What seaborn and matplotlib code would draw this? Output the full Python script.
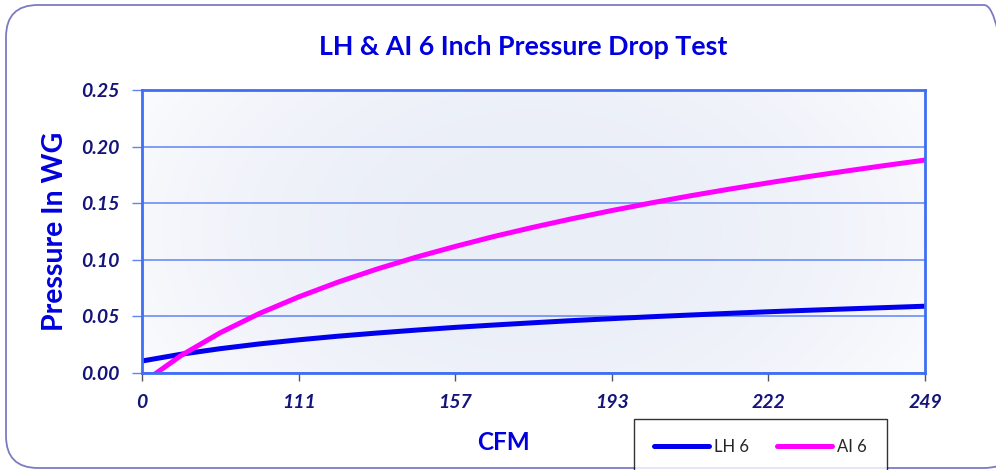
import matplotlib
matplotlib.use("Agg")
import matplotlib.pyplot as plt
from matplotlib.patches import FancyBboxPatch
from matplotlib.transforms import IdentityTransform
from matplotlib.colors import to_rgb
import numpy as np
import pandas as pd
import seaborn as sns

# CFM categories on the x axis
cfm_labels = ["0", "111", "157", "193", "222", "249"]

# readings taken off the curves, x in category steps (0 = "0", 5 = "249")
x_read = [0, 0.25, 0.5, 0.75, 1, 1.25, 1.5, 1.75, 2, 2.25, 2.5,
          2.75, 3, 3.25, 3.5, 3.75, 4, 4.25, 4.5, 4.75, 5]
lh6 = [0.0106, 0.0166, 0.0215, 0.0257, 0.0293, 0.0325, 0.0353, 0.0379,
       0.0403, 0.0424, 0.0444, 0.0463, 0.0480, 0.0497, 0.0512, 0.0527,
       0.0541, 0.0554, 0.0566, 0.0578, 0.0590]
ai6 = [-0.0090, 0.0155, 0.0356, 0.0526, 0.0672, 0.0802, 0.0918, 0.1023,
       0.1118, 0.1207, 0.1288, 0.1364, 0.1435, 0.1502, 0.1565, 0.1624,
       0.1680, 0.1734, 0.1785, 0.1834, 0.1881]

df = pd.concat([
    pd.DataFrame({"x": x_read, "p": lh6, "series": "LH 6"}),
    pd.DataFrame({"x": x_read, "p": ai6, "series": "AI 6"}),
])

sns.set_style("white")
plt.rcParams["font.family"] = ["Lato", "DejaVu Sans"]

fig = plt.figure(figsize=(9.96, 4.7), dpi=100)
ax = fig.add_axes([142 / 996, 1 - 373 / 470, (925 - 142) / 996, (373 - 90) / 470])

# soft gradient fill of the plot area
gx, gy = np.meshgrid(np.linspace(-1, 1, 200), np.linspace(-1, 1, 100))
t = np.clip(np.sqrt((gx * 0.9) ** 2 + (gy * 0.5) ** 2) / 1.05, 0, 1) ** 2.2
c_in, c_out = np.array(to_rgb("#eaeef7")), np.array(to_rgb("#fbfcfe"))
img = c_in * (1 - t[..., None]) + c_out * t[..., None]
ax.imshow(img, extent=[0, 5, 0, 0.25], aspect="auto", zorder=0, origin="lower")

sns.lineplot(data=df, x="x", y="p", hue="series", palette=["#0000ee", "#ff00ff"],
             linewidth=3.6, ax=ax, legend=False, zorder=3)

ax.set_xlim(0, 5)
ax.set_ylim(0, 0.25)
ax.set_xticks(range(len(cfm_labels)))
ax.set_xticklabels(cfm_labels)
ax.set_yticks([0, 0.05, 0.10, 0.15, 0.20, 0.25])
ax.set_yticklabels(["0.00", "0.05", "0.10", "0.15", "0.20", "0.25"])
ax.grid(axis="y", color="#5f85f5", linewidth=1.1, zorder=1)
ax.grid(axis="x", visible=False)
for s in ax.spines.values():
    s.set_color("#3f6ef5")
    s.set_linewidth(2)
    s.set_zorder(4)

ax.tick_params(axis="x", direction="out", length=6, width=1, color="#555555", pad=9,
               bottom=True)
ax.tick_params(axis="y", direction="out", length=7, width=1, color="#5f85f5", pad=9,
               left=True)
for lab in ax.get_xticklabels() + ax.get_yticklabels():
    lab.set_fontsize(14)
    lab.set_fontweight("bold")
    lab.set_fontstyle("italic")
    lab.set_color("#14147a")

ax.set_xlabel("")
ax.set_ylabel("Pressure In WG", fontsize=20.5, fontweight="bold", color="#0000dd",
              labelpad=10)

fig.text(523 / 996, 1 - 47 / 470, "LH & AI 6 Inch Pressure Drop Test", ha="center",
         va="center", fontsize=19.3, fontweight="bold", color="#0000dd")
fig.text(503 / 996, 1 - 443 / 470, "CFM", ha="center", va="center", fontsize=17.5,
         fontweight="bold", color="#0000dd")

handles = [plt.Line2D([], [], color="#0000ee", lw=3.6),
           plt.Line2D([], [], color="#ff00ff", lw=3.6)]
leg = fig.legend(handles, ["LH 6", "AI 6"], loc="upper left",
                 bbox_to_anchor=(634 / 996, 1 - 419 / 470), ncol=2, frameon=True,
                 fancybox=False, edgecolor="black", fontsize=12, handlelength=3.3,
                 handletextpad=0.3, columnspacing=1.7, borderpad=1.2, borderaxespad=0)
leg.get_frame().set_linewidth(1)

# rounded outer border of the chart area
border = FancyBboxPatch((6, 2), 1010, 463, boxstyle="round,pad=0,rounding_size=32",
                        transform=IdentityTransform(), facecolor="none",
                        edgecolor="#7b7bc4", linewidth=1.3)
fig.patches.append(border)

fig.savefig("out.png", dpi=100)
